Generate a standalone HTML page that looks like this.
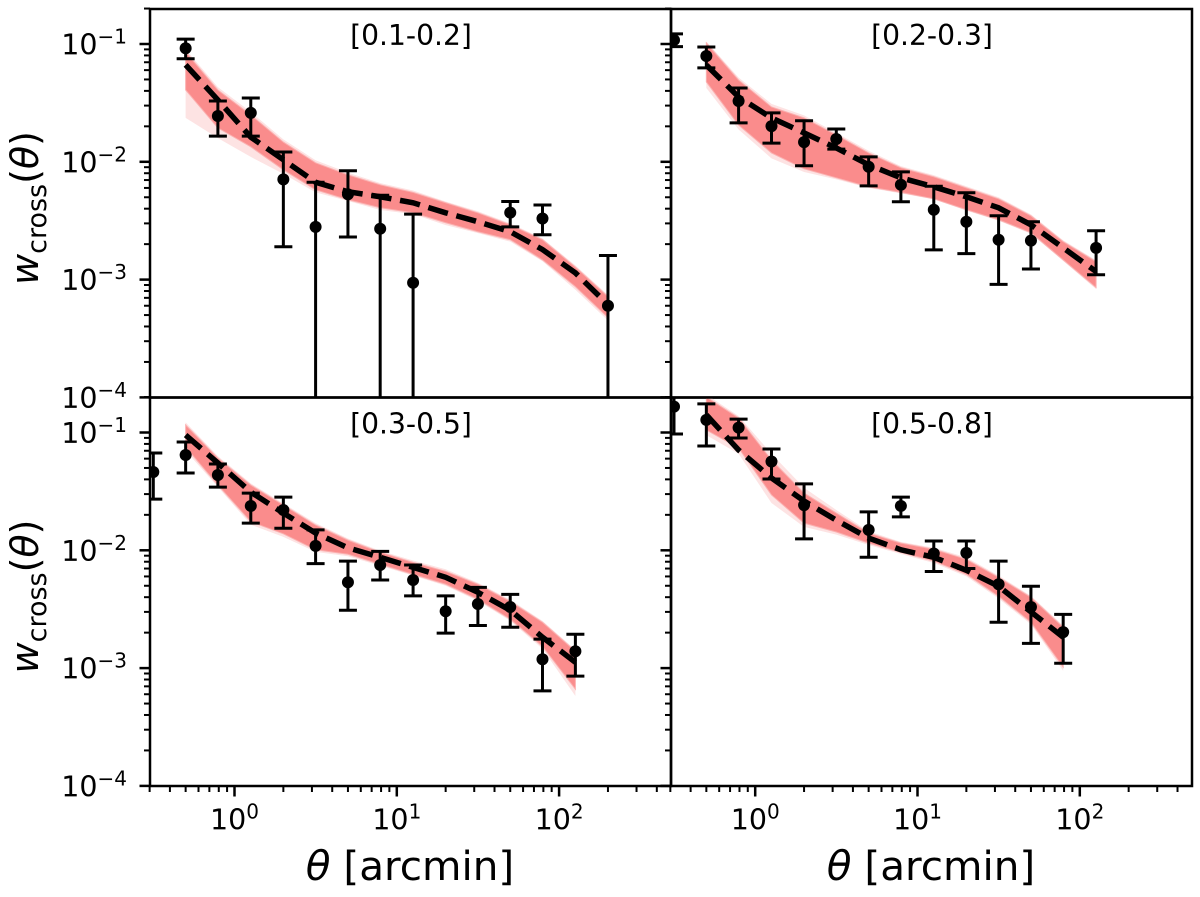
<!DOCTYPE html>
<html>
<head>
<meta charset="utf-8">
<title>w_cross panels</title>
<style>
html,body{margin:0;padding:0;background:#fff;width:1200px;height:897px;overflow:hidden}
svg{display:block}
text{font-family:"DejaVu Sans","Liberation Sans",sans-serif;fill:#000}
</style>
</head>
<body>
<svg id="chart" xmlns="http://www.w3.org/2000/svg" width="1200" height="897" viewBox="0 0 1200 897"></svg>
<script>
// ---- shared categories and tick labels ----
const titles = ["[0.1-0.2]", "[0.2-0.3]", "[0.3-0.5]", "[0.5-0.8]"];
const xTickValues = [1, 10, 100];
const xTickExponents = ["0", "1", "2"];
const yTickValues = [0.1, 0.01, 0.001, 0.0001];
const yTickExponents = ["\u22121", "\u22122", "\u22123", "\u22124"];
const xLabelSymbol = "\u03B8";
const xLabelUnit = " [arcmin]";

// ---- panel 1: [0.1-0.2] ----
const p1Theta = [0.5, 0.79, 1.26, 2, 3.16, 5, 7.9, 12.6, 50, 79, 200];
const p1Values = [0.092, 0.0245, 0.026, 0.0071, 0.0028, 0.0053, 0.0027, 0.00094, 0.0037, 0.0033, 0.0006];
const p1ErrHigh = [0.11, 0.0328, 0.0348, 0.0121, 0.0067, 0.0084, 0.0052, 0.0036, 0.0046, 0.0043, 0.0016];
const p1ErrLow = [0.075, 0.0165, 0.0165, 0.0019, 0.00001, 0.0023, 0.00001, 0.00001, 0.0028, 0.0024, 0.00001];
const p1ModelTheta = [0.5, 0.79, 1.26, 2, 3.16, 5, 7.9, 12.6, 20, 31.6, 50, 79, 126, 200];
const p1Model = [0.0665, 0.0335, 0.0162, 0.0104, 0.0067, 0.00557, 0.00505, 0.00449, 0.00369, 0.0031, 0.00255, 0.0018, 0.00114, 0.000613];
const p1BandHigh = [0.0855, 0.0407, 0.025, 0.0147, 0.0098, 0.00775, 0.00638, 0.0055, 0.00449, 0.00369, 0.00292, 0.00218, 0.00128, 0.000717];
const p1BandLow = [0.0407, 0.0194, 0.0134, 0.00855, 0.00578, 0.00476, 0.00407, 0.00369, 0.00304, 0.00255, 0.00218, 0.00147, 0.000872, 0.000476];
const p1FringeHigh = [0.09, 0.043, 0.0265, 0.0155, 0.0103, 0.0081, 0.0066, 0.0057, 0.0046, 0.0038, 0.003, 0.00224, 0.00132, 0.00074];
const p1FringeLow = [0.0236, 0.0159, 0.011, 0.0079, 0.0055, 0.00465, 0.0039, 0.0036, 0.0029, 0.00248, 0.0021, 0.00143, 0.00082, 0.00045];

// ---- panel 2: [0.2-0.3] ----
const p2Theta = [0.316, 0.5, 0.79, 1.26, 2, 3.16, 5, 7.9, 12.6, 20, 31.6, 50, 126];
const p2Values = [0.108, 0.0791, 0.0328, 0.0201, 0.0147, 0.0156, 0.00907, 0.00638, 0.00392, 0.0031, 0.00218, 0.00214, 0.00186];
const p2ErrHigh = [0.122, 0.0943, 0.0423, 0.026, 0.0223, 0.019, 0.011, 0.00822, 0.0062, 0.00546, 0.00348, 0.0031, 0.0026];
const p2ErrLow = [0.095, 0.0627, 0.0214, 0.0144, 0.00925, 0.0128, 0.00625, 0.00458, 0.00179, 0.00166, 0.00091, 0.00123, 0.0011];
const p2ModelTheta = [0.5, 0.79, 1.26, 2, 3.16, 5, 7.9, 12.6, 20, 31.6, 50, 79, 126];
const p2Model = [0.0663, 0.0355, 0.0236, 0.0176, 0.0131, 0.00943, 0.00731, 0.00613, 0.00505, 0.00407, 0.00292, 0.00186, 0.00117];
const p2BandHigh = [0.102, 0.0495, 0.0292, 0.0236, 0.0169, 0.0119, 0.0089, 0.00746, 0.00601, 0.00485, 0.00348, 0.0021, 0.00142];
const p2BandLow = [0.0476, 0.0205, 0.0119, 0.00872, 0.00731, 0.00613, 0.0055, 0.00485, 0.00392, 0.00322, 0.0025, 0.00147, 0.000855];
const p2FringeHigh = [0.105, 0.052, 0.031, 0.0248, 0.0176, 0.0124, 0.0092, 0.0077, 0.0062, 0.005, 0.00358, 0.00216, 0.00146];
const p2FringeLow = [0.0423, 0.0188, 0.0107, 0.0082, 0.0071, 0.006, 0.0054, 0.0048, 0.00385, 0.00316, 0.00245, 0.00144, 0.00083];

// ---- panel 3: [0.3-0.5] ----
const p3Theta = [0.316, 0.5, 0.79, 1.26, 2, 3.16, 5, 7.9, 12.6, 20, 31.6, 50, 79, 126];
const p3Values = [0.0462, 0.0644, 0.0436, 0.0238, 0.022, 0.0109, 0.00535, 0.0075, 0.0056, 0.00304, 0.0035, 0.0033, 0.00119, 0.00139];
const p3ErrHigh = [0.067, 0.083, 0.054, 0.0306, 0.0283, 0.0149, 0.0081, 0.0098, 0.0075, 0.0041, 0.00485, 0.00423, 0.00176, 0.00194];
const p3ErrLow = [0.0272, 0.0453, 0.0344, 0.017, 0.0154, 0.0077, 0.0031, 0.0056, 0.0041, 0.00198, 0.0023, 0.00222, 0.00064, 0.000855];
const p3ModelTheta = [0.5, 0.79, 1.26, 2, 3.16, 5, 7.9, 12.6, 20, 31.6, 50, 79, 126];
const p3Model = [0.0952, 0.0551, 0.0312, 0.0207, 0.014, 0.0105, 0.00872, 0.00717, 0.0059, 0.0044, 0.0031, 0.00183, 0.00112];
const p3BandHigh = [0.116, 0.0607, 0.0358, 0.0242, 0.0164, 0.0122, 0.00962, 0.0079, 0.00663, 0.00515, 0.00369, 0.00245, 0.00139];
const p3BandLow = [0.0753, 0.0358, 0.0175, 0.0138, 0.0101, 0.00925, 0.00761, 0.00625, 0.00515, 0.00384, 0.0026, 0.00153, 0.000663];
const p3FringeHigh = [0.122, 0.063, 0.037, 0.025, 0.017, 0.0126, 0.0099, 0.0082, 0.0069, 0.0053, 0.0038, 0.00252, 0.00143];
const p3FringeLow = [0.07, 0.0345, 0.0165, 0.013, 0.0097, 0.0089, 0.0074, 0.0061, 0.005, 0.00372, 0.00252, 0.00146, 0.00058];

// ---- panel 4: [0.5-0.8] ----
const p4Theta = [0.316, 0.5, 0.79, 1.26, 2, 5, 7.9, 12.6, 20, 31.6, 50, 79];
const p4Values = [0.166, 0.128, 0.11, 0.0567, 0.0242, 0.0149, 0.0238, 0.0094, 0.0095, 0.00515, 0.0033, 0.00202];
const p4ErrHigh = [0.3, 0.175, 0.13, 0.0724, 0.0366, 0.0212, 0.0283, 0.012, 0.012, 0.0081, 0.00495, 0.00286];
const p4ErrLow = [0.097, 0.0768, 0.0898, 0.0403, 0.0125, 0.00872, 0.0192, 0.0066, 0.007, 0.00245, 0.00162, 0.0011];
const p4ModelTheta = [0.5, 0.79, 1.26, 2, 3.16, 5, 7.9, 12.6, 20, 31.6, 50, 79];
const p4Model = [0.141, 0.071, 0.0411, 0.0262, 0.018, 0.0127, 0.0101, 0.00872, 0.00677, 0.00495, 0.003, 0.00183];
const p4BandHigh = [0.2, 0.133, 0.0584, 0.0306, 0.0207, 0.014, 0.0115, 0.0102, 0.00839, 0.0059, 0.00399, 0.00222];
const p4BandLow = [0.105, 0.0739, 0.0295, 0.017, 0.0143, 0.0115, 0.0096, 0.0081, 0.00625, 0.00407, 0.00245, 0.00102];
const p4FringeHigh = [0.21, 0.138, 0.066, 0.034, 0.022, 0.0145, 0.0118, 0.0105, 0.0087, 0.0061, 0.0041, 0.0023];
const p4FringeLow = [0.095, 0.066, 0.0252, 0.0158, 0.0136, 0.0111, 0.0093, 0.0078, 0.006, 0.0039, 0.00235, 0.00095];

const svg = document.getElementById("chart");
const NS = "http://www.w3.org/2000/svg";
const decadeX = 162.3;
const decadeY = 117.8;
const xMin = 0.3, xMax = 486, yMin = 0.0001, yMax = 0.2;

function make(tag, attrs, parent) {
  const n = document.createElementNS(NS, tag);
  for (const k in attrs) n.setAttribute(k, attrs[k]);
  (parent || svg).appendChild(n);
  return n;
}
function xScale(panel, t) { return panel.xOne + Math.log10(t) * decadeX; }
function yScale(panel, v) { return panel.yTenth + (-1 - Math.log10(v)) * decadeY; }
function linePoints(panel, ts, vs) {
  return ts.map((t, i) => xScale(panel, t).toFixed(2) + "," + yScale(panel, vs[i]).toFixed(2));
}

const panels = [
  {title: titles[0], xOne: 234.5, yTenth: 44, left: 150, top: 9, showY: true, showX: false, theta: p1Theta, values: p1Values, high: p1ErrHigh, low: p1ErrLow, modelTheta: p1ModelTheta, model: p1Model, bandHigh: p1BandHigh, bandLow: p1BandLow, fringeHigh: p1FringeHigh, fringeLow: p1FringeLow},
  {title: titles[1], xOne: 755.2, yTenth: 44, left: 671, top: 9, showY: false, showX: false, theta: p2Theta, values: p2Values, high: p2ErrHigh, low: p2ErrLow, modelTheta: p2ModelTheta, model: p2Model, bandHigh: p2BandHigh, bandLow: p2BandLow, fringeHigh: p2FringeHigh, fringeLow: p2FringeLow},
  {title: titles[2], xOne: 234.5, yTenth: 432.5, left: 150, top: 397.5, showY: true, showX: true, theta: p3Theta, values: p3Values, high: p3ErrHigh, low: p3ErrLow, modelTheta: p3ModelTheta, model: p3Model, bandHigh: p3BandHigh, bandLow: p3BandLow, fringeHigh: p3FringeHigh, fringeLow: p3FringeLow},
  {title: titles[3], xOne: 755.2, yTenth: 432.5, left: 671, top: 397.5, showY: false, showX: true, theta: p4Theta, values: p4Values, high: p4ErrHigh, low: p4ErrLow, modelTheta: p4ModelTheta, model: p4Model, bandHigh: p4BandHigh, bandLow: p4BandLow, fringeHigh: p4FringeHigh, fringeLow: p4FringeLow}
];
const panelW = 521, panelH = 388.5;
const defs = make("defs", {});

panels.forEach((p, idx) => {
  const clipId = "clip" + idx;
  const cp = make("clipPath", {id: clipId}, defs);
  make("rect", {x: p.left, y: p.top, width: panelW, height: panelH}, cp);

  const g = make("g", {}, svg);
  
  

  const plot = make("g", {"clip-path": "url(#" + clipId + ")"}, g);
  
  

  // model realisations band
  const rev = p.modelTheta.slice().reverse();
  const fringe = make("polygon", {
    points: linePoints(p, p.modelTheta, p.fringeHigh).concat(linePoints(p, rev, p.fringeLow.slice().reverse())).join(" "),
    fill: "#fde3e3"
  }, plot);
  
  
  const band = make("polygon", {
    points: linePoints(p, p.modelTheta, p.bandHigh).concat(linePoints(p, rev, p.bandLow.slice().reverse())).join(" "),
    fill: "#fa8c8c", stroke: "#fbb0b0", "stroke-width": 1
  }, plot);
  
  

  // dashed best-fit line
  const line = make("polyline", {
    points: linePoints(p, p.modelTheta, p.model).join(" "),
    fill: "none", stroke: "#000", "stroke-width": 5.5, "stroke-dasharray": "20.4 8.8"
  }, plot);
  
  

  // data points with error bars
  p.theta.forEach((t, i) => {
    const px = xScale(p, t);
    const yHi = yScale(p, p.high[i]);
    const yLo = yScale(p, p.low[i]);
    const bar = make("line", {x1: px, x2: px, y1: yHi, y2: yLo, stroke: "#000", "stroke-width": 3}, plot);
    
    
    const capTop = make("line", {x1: px - 9, x2: px + 9, y1: yHi, y2: yHi, stroke: "#000", "stroke-width": 3}, plot);
    
    
    const capBottom = make("line", {x1: px - 9, x2: px + 9, y1: yLo, y2: yLo, stroke: "#000", "stroke-width": 3}, plot);
    
    
    const dot = make("circle", {cx: px, cy: yScale(p, p.values[i]), r: 6, fill: "#000"}, plot);
    
    
  });

  // panel title
  const ttl = make("text", {x: p.left + 261, y: p.top + 36, "text-anchor": "middle", "font-size": 28.2}, g);
  ttl.textContent = p.title;
  
  

  // y ticks (major + minor)
  for (let e = -1; e >= -4; e--) {
    const major = Math.pow(10, e);
    const my = yScale(p, major);
    const tk = make("line", {x1: p.left - 10.5, x2: p.left, y1: my, y2: my, stroke: "#000", "stroke-width": 2.5}, g);
    
    
    for (let m = 2; m <= 9; m++) {
      const v = m * major;
      if (v > yMax || v < yMin) continue;
      const ny = yScale(p, v);
      const mn = make("line", {x1: p.left - 6, x2: p.left, y1: ny, y2: ny, stroke: "#000", "stroke-width": 2}, g);
      
      
    }
  }
  // y tick labels
  if (p.showY) {
    yTickValues.forEach((v, i) => {
      const lab = make("text", {x: 127, y: yScale(p, v) + 10.5, "text-anchor": "end", "font-size": 28.5}, g);
      
      
      const base = make("tspan", {}, lab);
      base.textContent = "10";
      const sup = make("tspan", {dy: -11, "font-size": 20}, lab);
      sup.textContent = yTickExponents[i];
    });
    const yl = make("text", {transform: "translate(38," + (p.top + 199) + ") rotate(-90)", "text-anchor": "middle", "font-size": 38}, g);
    
    
    const w = make("tspan", {"font-style": "italic"}, yl);
    w.textContent = "w";
    const sub = make("tspan", {dy: 8, "font-size": 27}, yl);
    sub.textContent = "cross";
    const open = make("tspan", {dy: -8}, yl);
    open.textContent = "(";
    const th = make("tspan", {"font-style": "italic"}, yl);
    th.textContent = "\u03B8";
    const close = make("tspan", {}, yl);
    close.textContent = ")";
  }

  // x ticks
  if (p.showX) {
    const baseY = p.top + panelH;
    for (let e = -1; e <= 2; e++) {
      const major = Math.pow(10, e);
      if (major >= xMin && major <= xMax) {
        const mx = xScale(p, major);
        const tk = make("line", {x1: mx, x2: mx, y1: baseY, y2: baseY + 10.5, stroke: "#000", "stroke-width": 2.5}, g);
        
        
      }
      for (let m = 2; m <= 9; m++) {
        const v = m * major;
        if (v < xMin || v > xMax) continue;
        const nx = xScale(p, v);
        const mn = make("line", {x1: nx, x2: nx, y1: baseY, y2: baseY + 6, stroke: "#000", "stroke-width": 2}, g);
        
        
      }
    }
    xTickValues.forEach((v, i) => {
      const lab = make("text", {x: xScale(p, v), y: 829.5, "text-anchor": "middle", "font-size": 28.5}, g);
      
      
      const base = make("tspan", {}, lab);
      base.textContent = "10";
      const sup = make("tspan", {dy: -11, "font-size": 20}, lab);
      sup.textContent = xTickExponents[i];
    });
    const xl = make("text", {x: p.left + 260, y: 880, "text-anchor": "middle", "font-size": 40.5}, g);
    
    
    xl.style.whiteSpace = "pre";
    const sym = make("tspan", {"font-style": "italic"}, xl);
    sym.textContent = xLabelSymbol;
    const unit = make("tspan", {}, xl);
    unit.textContent = xLabelUnit;
  }

  // spines
  const frame = make("rect", {x: p.left, y: p.top, width: panelW, height: panelH, fill: "none", stroke: "#000", "stroke-width": 2.5}, g);
  
  
});
</script>
</body>
</html>
